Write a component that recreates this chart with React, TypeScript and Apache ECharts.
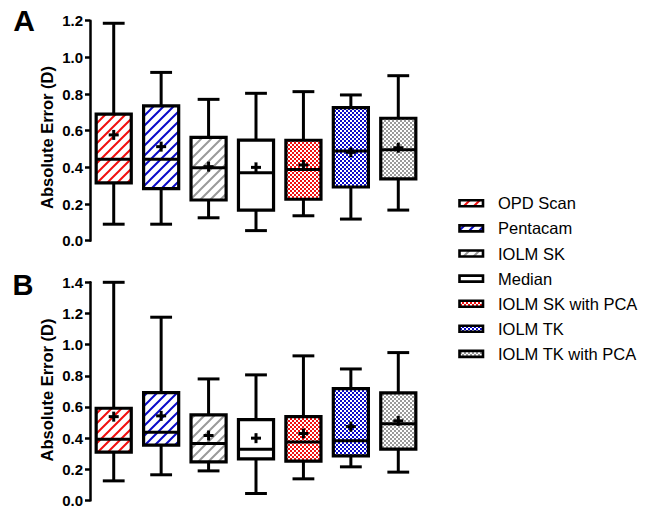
import React, { useEffect, useRef } from "react";
import * as echarts from "echarts";

const categories = ["OPD Scan", "Pentacam", "IOLM SK", "Median", "IOLM SK with PCA", "IOLM TK", "IOLM TK with PCA"];

// Panel A statistics
const aMin = [0.09, 0.09, 0.125, 0.055, 0.136, 0.118, 0.167];
const aQ1 = [0.315, 0.284, 0.222, 0.167, 0.226, 0.293, 0.337];
const aMedian = [0.444, 0.444, 0.398, 0.371, 0.389, 0.489, 0.496];
const aQ3 = [0.69, 0.735, 0.564, 0.549, 0.548, 0.726, 0.668];
const aMax = [1.186, 0.918, 0.771, 0.804, 0.813, 0.795, 0.9];
const aMean = [0.577, 0.513, 0.404, 0.4, 0.413, 0.482, 0.507];

// Panel B statistics
const bMin = [0.126, 0.165, 0.19, 0.045, 0.139, 0.216, 0.182];
const bQ1 = [0.31, 0.355, 0.248, 0.267, 0.252, 0.286, 0.329];
const bMedian = [0.393, 0.438, 0.365, 0.329, 0.376, 0.383, 0.492];
const bQ3 = [0.592, 0.692, 0.549, 0.519, 0.538, 0.718, 0.69];
const bMax = [1.4, 1.176, 0.78, 0.806, 0.928, 0.844, 0.949];
const bMean = [0.538, 0.543, 0.417, 0.4, 0.43, 0.474, 0.511];

const aTicks = { min: 0, max: 1.2, interval: 0.2 };
const bTicks = { min: 0, max: 1.4, interval: 0.2 };

function makeHatch(color: string) {
  const s = 10;
  const c = document.createElement("canvas");
  c.width = s;
  c.height = s;
  const ctx = c.getContext("2d")!;
  ctx.fillStyle = "#ffffff";
  ctx.fillRect(0, 0, s, s);
  ctx.strokeStyle = color;
  ctx.lineWidth = 2;
  ctx.beginPath();
  ctx.moveTo(0, s);
  ctx.lineTo(s, 0);
  ctx.moveTo(-2, 2);
  ctx.lineTo(2, -2);
  ctx.moveTo(s - 2, s + 2);
  ctx.lineTo(s + 2, s - 2);
  ctx.stroke();
  return { image: c, repeat: "repeat", imageWidth: s, imageHeight: s };
}

function makeChecker(color: string) {
  const cell = 2;
  const s = cell * 2;
  const c = document.createElement("canvas");
  c.width = s;
  c.height = s;
  const ctx = c.getContext("2d")!;
  ctx.fillStyle = "#ffffff";
  ctx.fillRect(0, 0, s, s);
  ctx.fillStyle = color;
  ctx.fillRect(0, 0, cell, cell);
  ctx.fillRect(cell, cell, cell, cell);
  return { image: c, repeat: "repeat", imageWidth: s, imageHeight: s };
}

export default function App() {
  const ref = useRef<HTMLDivElement>(null);
  useEffect(() => {
    document.body.style.margin = "0";
    const chart = echarts.init(ref.current!, null, { renderer: "svg" });
    const fills: any[] = [
      makeHatch("#f01010"),
      makeHatch("#0a0ac8"),
      makeHatch("#9a9a9a"),
      "#ffffff",
      makeChecker("#f01010"),
      makeChecker("#0a0ac8"),
      makeChecker("#9a9a9a"),
    ];

    const build = (mn: number[], q1: number[], md: number[], q3: number[], mx: number[], mean: number[]) =>
      categories.map((_, i) => [i, mn[i], q1[i], md[i], q3[i], mx[i], mean[i]]);

    const renderItem = (params: any, api: any) => {
      const i = api.value(0);
      const band = api.size([1, 0])[0];
      const bw = band * 0.74;
      const cw = band * 0.46;
      const pMin = api.coord([i, api.value(1)]);
      const pQ1 = api.coord([i, api.value(2)]);
      const pMd = api.coord([i, api.value(3)]);
      const pQ3 = api.coord([i, api.value(4)]);
      const pMx = api.coord([i, api.value(5)]);
      const pMean = api.coord([i, api.value(6)]);
      const cx = pMd[0];
      const ls = { stroke: "#000", lineWidth: 3 };
      const pl = 5;
      return {
        type: "group",
        children: [
          { type: "line", shape: { x1: cx, y1: pMx[1], x2: cx, y2: pQ3[1] }, style: ls },
          { type: "line", shape: { x1: cx, y1: pQ1[1], x2: cx, y2: pMin[1] }, style: ls },
          { type: "line", shape: { x1: cx - cw / 2, y1: pMx[1], x2: cx + cw / 2, y2: pMx[1] }, style: ls },
          { type: "line", shape: { x1: cx - cw / 2, y1: pMin[1], x2: cx + cw / 2, y2: pMin[1] }, style: ls },
          {
            type: "rect",
            shape: { x: cx - bw / 2, y: pQ3[1], width: bw, height: pQ1[1] - pQ3[1] },
            style: { fill: fills[i], stroke: "#000", lineWidth: 3.2 },
          },
          { type: "line", shape: { x1: cx - bw / 2, y1: pMd[1], x2: cx + bw / 2, y2: pMd[1] }, style: ls },
          { type: "line", shape: { x1: cx - pl, y1: pMean[1], x2: cx + pl, y2: pMean[1] }, style: ls },
          { type: "line", shape: { x1: cx, y1: pMean[1] - pl, x2: cx, y2: pMean[1] + pl }, style: ls },
        ],
      };
    };

    const yAxisBase = (t: { min: number; max: number; interval: number }, gi: number) => ({
      type: "value",
      gridIndex: gi,
      min: t.min,
      max: t.max,
      interval: t.interval,
      axisLine: { show: true, lineStyle: { color: "#000", width: 2.5 } },
      axisTick: { show: true, length: 5, lineStyle: { color: "#000", width: 2.5 } },
      splitLine: { show: false },
      axisLabel: {
        margin: 7,
        color: "#000",
        fontFamily: "Liberation Sans, Arial, sans-serif",
        fontWeight: "bold",
        fontSize: 15,
        formatter: (v: number) => v.toFixed(1),
      },
    });

    const xAxisBase = (gi: number) => ({
      type: "category",
      gridIndex: gi,
      data: categories,
      boundaryGap: true,
      show: false,
    });

    const legendItems: any[] = [];
    categories.forEach((name, i) => {
      const cy = 203.3 + i * 25.1;
      legendItems.push({
        type: "rect",
        shape: { x: 459.5, y: cy - 3, width: 23.5, height: 6 },
        style: { fill: fills[i], stroke: "#000", lineWidth: 2.6 },
      });
      legendItems.push({
        type: "text",
        x: 498,
        y: cy,
        style: {
          text: name,
          fill: "#000",
          font: "16.5px 'Liberation Sans', Arial, sans-serif",
          verticalAlign: "middle",
          align: "left",
        },
      });
    });

    const option: any = {
      animation: false,
      grid: [
        { left: 90, top: 20.7, width: 332, height: 220 },
        { left: 90, top: 282.3, width: 332, height: 218.4 },
      ],
      xAxis: [xAxisBase(0), xAxisBase(1)],
      yAxis: [yAxisBase(aTicks, 0), yAxisBase(bTicks, 1)],
      series: [
        {
          type: "custom",
          name: "A",
          xAxisIndex: 0,
          yAxisIndex: 0,
          renderItem,
          encode: { x: 0, y: [1, 2, 3, 4, 5, 6] },
          data: build(aMin, aQ1, aMedian, aQ3, aMax, aMean),
        },
        {
          type: "custom",
          name: "B",
          xAxisIndex: 1,
          yAxisIndex: 1,
          renderItem,
          encode: { x: 0, y: [1, 2, 3, 4, 5, 6] },
          data: build(bMin, bQ1, bMedian, bQ3, bMax, bMean),
        },
      ],
      graphic: [
        {
          type: "text",
          x: 24,
          y: 35,
          style: { text: "A", fill: "#000", font: "bold 30px 'Liberation Sans', Arial, sans-serif", align: "center", verticalAlign: "bottom" },
        },
        {
          type: "text",
          x: 23,
          y: 299,
          style: { text: "B", fill: "#000", font: "bold 29px 'Liberation Sans', Arial, sans-serif", align: "center", verticalAlign: "bottom" },
        },
        {
          type: "text",
          x: 46.7,
          y: 137.5,
          rotation: Math.PI / 2,
          style: { text: "Absolute Error (D)", fill: "#000", font: "bold 16.5px 'Liberation Sans', Arial, sans-serif", align: "center", verticalAlign: "middle" },
        },
        {
          type: "text",
          x: 46.7,
          y: 390,
          rotation: Math.PI / 2,
          style: { text: "Absolute Error (D)", fill: "#000", font: "bold 16.5px 'Liberation Sans', Arial, sans-serif", align: "center", verticalAlign: "middle" },
        },
        ...legendItems,
      ],
    };
    chart.setOption(option);
    return () => chart.dispose();
  }, []);
  return <div ref={ref} style={{ width: 648, height: 508 }} />;
}
